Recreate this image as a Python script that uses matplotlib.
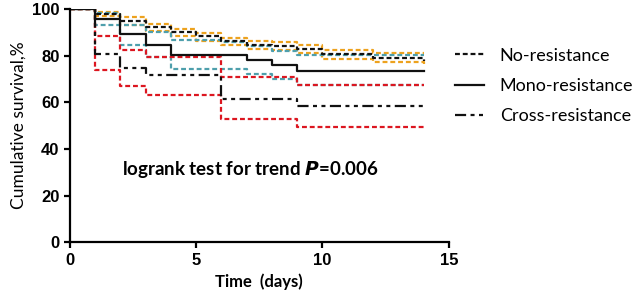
import matplotlib.pyplot as plt
from matplotlib.lines import Line2D

# survival (%) on each interval [day, day+1), day = 0..14
days = list(range(15))

no_res = [100, 98.0, 94.9, 92.3, 90.2, 88.3, 86.3, 84.7, 84.3, 82.8, 80.6, 80.6, 79.1, 79.1, 77.6]
no_res_hi = [100, 98.7, 96.6, 93.5, 91.6, 89.8, 87.6, 86.2, 85.9, 84.4, 82.6, 82.6, 81.1, 81.1, 81.1]
no_res_lo = [100, 97.0, 93.3, 90.5, 88.4, 86.3, 84.4, 83.0, 82.5, 81.0, 78.7, 78.7, 77.3, 77.3, 76.5]

mono = [100, 95.6, 89.1, 84.7, 80.4, 80.4, 80.4, 78.2, 75.9, 73.6, 73.6, 73.6, 73.6, 73.6, 73.6]
mono_hi = [100, 98.3, 93.3, 90.0, 86.6, 86.6, 86.0, 84.1, 82.0, 80.4, 80.4, 80.4, 80.4, 80.4, 80.4]
mono_lo = [100, 93.0, 84.7, 79.4, 74.4, 74.4, 74.4, 72.0, 69.9, 67.3, 67.3, 67.3, 67.3, 67.3, 67.3]

cross = [100, 80.9, 74.6, 71.6, 71.6, 71.6, 61.6, 61.6, 61.6, 58.4, 58.4, 58.4, 58.4, 58.4, 58.4]
cross_hi = [100, 88.3, 82.3, 79.4, 79.4, 79.4, 70.7, 70.7, 70.7, 67.3, 67.3, 67.3, 67.3, 67.3, 67.3]
cross_lo = [100, 73.7, 67.0, 63.3, 63.3, 63.3, 52.7, 52.7, 52.7, 49.4, 49.4, 49.4, 49.4, 49.4, 49.4]

orange = '#EDA21E'
teal = '#4E9FAC'
red = '#DC1620'

dashed = (0, (2.2, 1.3))
dashdot = (0, (5, 2, 1.8, 2, 1.8, 2))

fig = plt.figure(figsize=(6.42, 2.99), dpi=100)
ax = fig.add_axes([0.109, 0.19, 0.59, 0.78])

# confidence bands first
for lo, hi, c in [(no_res_lo, no_res_hi, orange), (mono_lo, mono_hi, teal), (cross_lo, cross_hi, red)]:
    ax.step(days, hi, where='post', color=c, lw=1.6, ls=dashed)
    ax.step(days, lo, where='post', color=c, lw=1.6, ls=dashed)

ax.step(days, no_res, where='post', color='#111111', lw=1.6, ls=dashed)
ax.step(days, mono, where='post', color='#111111', lw=1.6)
ax.step(days, cross, where='post', color='#111111', lw=1.6, ls=dashdot)

ax.set_xlim(0, 15)
ax.set_ylim(0, 100)
ax.set_xticks([0, 5, 10, 15])
ax.set_yticks([0, 20, 40, 60, 80, 100])
ax.spines['top'].set_visible(False)
ax.spines['right'].set_visible(False)
for s in ['left', 'bottom']:
    ax.spines[s].set_linewidth(1.6)
ax.tick_params(width=1.6, length=4, direction='out')
for lab in ax.get_xticklabels() + ax.get_yticklabels():
    lab.set_family('Liberation Sans')
    lab.set_fontweight('bold')
    lab.set_fontsize(12)

ax.set_ylabel('Cumulative survival,%', family='Lato', fontsize=12.5)
ax.set_xlabel('Time  (days)', family='Lato', fontweight='bold', fontsize=12)

ax.text(0.137, 0.31, 'logrank test for trend $\\mathbfit{P}$=0.006', transform=ax.transAxes,
        family='Lato', fontweight='bold', fontsize=13.5, va='center')

handles = [Line2D([], [], color='#111111', lw=1.6, ls=dashed),
           Line2D([], [], color='#111111', lw=1.6),
           Line2D([], [], color='#111111', lw=1.6, ls=dashdot)]
fig.legend(handles, ['No-resistance', 'Mono-resistance', 'Cross-resistance'],
           loc='upper left', bbox_to_anchor=(0.697, 0.865), frameon=False,
           prop={'family': 'Lato', 'size': 13}, handlelength=1.6, handletextpad=0.9,
           labelspacing=0.8, borderaxespad=0)

fig.savefig('out.png', dpi=100)
